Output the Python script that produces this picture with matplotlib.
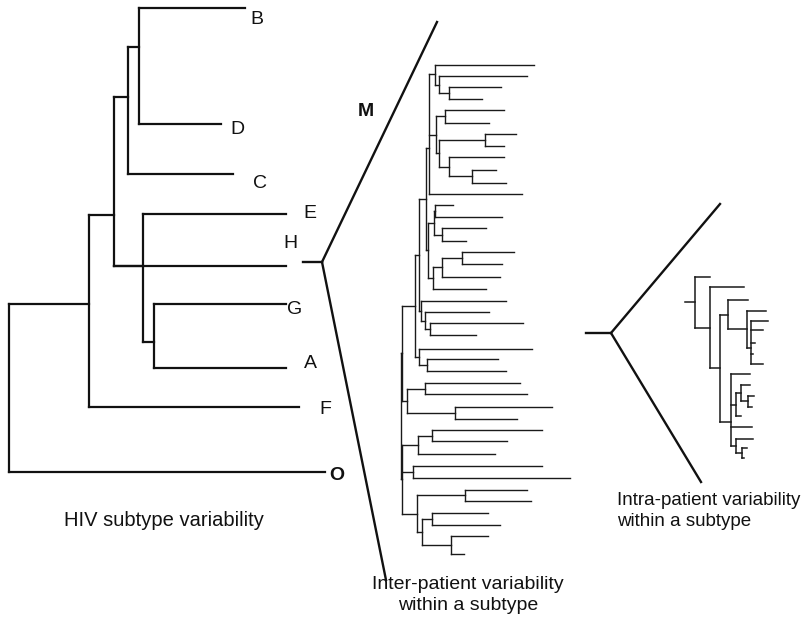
import matplotlib
matplotlib.use("Agg")
import matplotlib.pyplot as plt

plt.rcParams['font.family'] = ['Liberation Sans', 'DejaVu Sans']

# ---------------- Left tree: HIV subtypes ----------------
subtype_names = ["B", "D", "C", "E", "H", "G", "A", "F", "O"]
subtype_y     = [8, 124, 174, 214, 266, 304, 368, 407, 472]
subtype_xend  = [245, 221, 233, 286, 286, 286, 286, 299, 325]
subtype_lab_x = [257, 237, 260, 310, 290, 295, 310, 325, 337]
subtype_lab_y = [20, 130, 184, 213, 243, 310, 363, 409, 476]
subtype_bold  = [False]*8 + [True]
# internal nodes: (x, children, anchor_y or None)
left_tree = (9, [
    (89, [
        (114, [
            (128, [(139, [0, 1], 47), 2], 97),
            (143, [3, (154, [5, 6], 342)], 266),
            4], 215),
        7], 304),
    8], None)

# ---------------- Middle tree: inter-patient ----------------
inter_y = [65, 76, 87.3, 98.7, 109.7, 123, 134.3, 145.7, 157, 170, 182.7, 194,
           205, 216.7, 228.3, 240.7, 252, 263.7, 276.7, 289, 300.7, 312.3, 323.3,
           334.7, 349, 359, 371.3, 383, 394.3, 407.3, 418.7, 430, 441.3, 454,
           465.7, 478.3, 489.7, 500.7, 513.3, 525.3, 536.3, 553.7]
inter_xend = [534, 527, 501, 482, 504, 489, 516, 504, 504, 496, 506, 522,
              453, 502, 486, 466, 514, 502, 500, 486, 506, 489, 523,
              476, 532, 498, 506, 520, 527, 552, 517, 542, 507, 495,
              542, 570, 527, 530.7, 487.7, 500, 487.7, 464.3]
_top = (429, [
    (435, [0, (439, [1, (449, [2, 3], None)], None)], 74),
    (436, [(445, [4, 5], None),
           (439, [(485, [6, 7], None), (449, [8, (472, [9, 10], None)], None)], None)], None),
    11], 148)
_ab = (427.5, [
    (434, [(435, [12, 13], None), (441.7, [14, 15], None)], None),
    (433, [(441.7, [(462, [16, 17], None), 18], None), 19], None)], None)
_x = (419, [(425.5, [_top, _ab], None),
            (420.5, [20, (425, [21, (430, [22, 23], None)], None)], None)], None)
_y = (415, [_x, (419, [24, (427, [25, 26], None)], None)], None)
_z = (401.5, [_y, (406.7, [(425, [27, 28], None), (455, [29, 30], None)], None)], None)
_v = (401.5, [
    (417.7, [(432, [31, 32], None), 33], None),
    (413, [34, 35], None),
    (416.7, [(465, [36, 37], None),
             (422.3, [(432, [38, 39], None), (451, [40, 41], None)], None)], None)], None)
inter_tree = (400.5, [_z, _v], None)

# ---------------- Right tree: intra-patient ----------------
intra_y = [277, 287, 299.7, 310.7, 320.7, 329.7, 343, 354, 364, 374.3, 385, 396,
           406.7, 416, 427.3, 439, 448, 458]
intra_xend = [710, 744, 748.3, 766, 768.3, 762.7, 755, 752.5, 762.7, 750, 750,
              754.3, 752, 741, 751.7, 752.7, 747.3, 744]
intra_tree = (695, [
    0,
    (710, [
        1,
        (720, [
            (728.3, [2, (746.7, [3, (750.7, [4, 5, 6, 7, 8], 348)], None)], None),
            (730.7, [9,
                     (736, [(741, [10, (748.3, [11, 12], None)], None), 13], None),
                     14,
                     (736, [15, (741.7, [16, 17], None)], None)], 421.7)], None)], None)], None)
intra_stem = 685

# fan connectors (stub start, apex, upper end, lower end)
fan_M = [(303, 262), (322, 262), (437, 22), (386, 580)]
fan_P = [(586, 333), (611, 333), (720, 204), (701, 482)]

fig = plt.figure(figsize=(8.01, 6.19), dpi=100)
ax = fig.add_axes([0, 0, 1, 1])
ax.set_xlim(0, 801)
ax.set_ylim(619, 0)
ax.axis('off')


def draw(node, ys, xend, lw, color):
    if isinstance(node, int):
        return ys[node]
    x, children, anchor = node
    anchors = []
    for c in children:
        ay = draw(c, ys, xend, lw, color)
        cx = xend[c] if isinstance(c, int) else c[0]
        ax.plot([x, cx], [ay, ay], color=color, lw=lw, solid_capstyle='projecting')
        anchors.append(ay)
    ax.plot([x, x], [min(anchors), max(anchors)], color=color, lw=lw,
            solid_capstyle='projecting')
    if anchor is None:
        anchor = (min(anchors) + max(anchors)) / 2
    return anchor


draw(left_tree, subtype_y, subtype_xend, 1.6, '#111111')
draw(inter_tree, inter_y, inter_xend, 1.0, '#1a1a1a')
ra = draw(intra_tree, intra_y, intra_xend, 1.1, '#1a1a1a')
ax.plot([intra_stem, intra_tree[0]], [ra, ra], color='#1a1a1a', lw=1.1)

for fan in (fan_M, fan_P):
    s, a, u, l = fan
    ax.plot([s[0], a[0]], [s[1], a[1]], color='#111111', lw=1.7)
    ax.plot([a[0], u[0]], [a[1], u[1]], color='#111111', lw=1.7)
    ax.plot([a[0], l[0]], [a[1], l[1]], color='#111111', lw=1.7)

for name, lx, ly, b in zip(subtype_names, subtype_lab_x, subtype_lab_y, subtype_bold):
    ax.text(lx, ly, name, fontsize=14, ha='center', va='center',
            fontweight='bold' if b else 'normal', color='#111111')
ax.text(366, 112, "M", fontsize=14, ha='center', va='center', fontweight='bold',
        color='#111111')

ax.text(164, 521, "HIV subtype variability", fontsize=14.5, ha='center', va='center',
        color='#111111')
ax.text(468, 595, "Inter-patient variability\nwithin a subtype", fontsize=14,
        ha='center', va='center', linespacing=1.3, color='#111111')
ax.text(617, 511, "Intra-patient variability\nwithin a subtype", fontsize=13.5,
        ha='left', va='center', linespacing=1.35, color='#111111')

fig.savefig("out.png", dpi=100)
